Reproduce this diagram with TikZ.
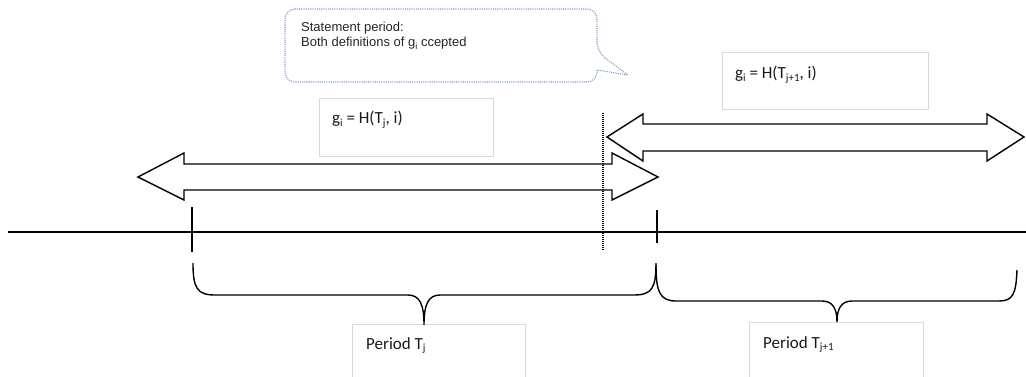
\documentclass[tikz,border=0pt]{standalone}
\usepackage{fontspec}
\setmainfont{Carlito}
\newfontfamily\calloutfont{Liberation Sans}
% small lowered index used in the labels
\newcommand\lowidx[1]{\raisebox{-0.35ex}{\fontsize{11}{11}\selectfont #1}}
\newcommand\lowidxs[1]{\raisebox{-0.35ex}{\fontsize{9}{9}\selectfont #1}}
\begin{document}
\begin{tikzpicture}[x=1pt,y=-1pt,
  axis/.style={line width=1.2pt, black},
  blockarrow/.style={line width=1.4pt, black, line join=miter},
  brace/.style={line width=1.4pt, black},
  marker/.style={line width=1.2pt, black, dash pattern=on 1pt off 1pt},
  panel/.style={draw=black!15, line width=0.9pt, inner sep=0pt},
  lbl/.style={anchor=base west, inner sep=0pt, text=black!90, font=\fontsize{17}{20}\selectfont},
  callout/.style={draw={rgb,255:red,127;green,157;blue,206}, line width=1.1pt, dash pattern=on 1.1pt off 1.1pt},
  note/.style={anchor=base west, inner sep=0pt, font=\calloutfont\fontsize{13}{15}\selectfont, text=black!85}]
\clip (0,0) rectangle (1026,377);

% speech bubble for the overlap period
\draw[callout] (285,40) [rounded corners=10pt] -- (285,9) -- (597,9) -- (597,52) [sharp corners] -- (628,75) -- (597,70) [rounded corners=10pt] -- (597,82) -- (285,82) -- cycle;
\node[note] (note1) at (301,32) {Statement period:};
\node[note] (note2) at (301,47) {Both definitions of g\lowidxs{i} ccepted};

% label panels
\node[panel, minimum width=174pt, minimum height=58pt, anchor=north west] (panelA) at (319,98) {};
\node[lbl] (textA) at (332,124) {g\lowidx{i} = H(T\lowidx{j}, i)};
\node[panel, minimum width=206pt, minimum height=57pt, anchor=north west] (panelB) at (722,52) {};
\node[lbl] (textB) at (735,79) {g\lowidx{i} = H(T\lowidx{j+1}, i)};
\node[panel, minimum width=173pt, minimum height=80pt, anchor=north west] (panelC) at (352,324) {};
\node[lbl] (textC) at (366,349) {Period T\lowidx{j}};
\node[panel, minimum width=174pt, minimum height=80pt, anchor=north west] (panelD) at (749,322) {};
\node[lbl] (textD) at (763,348) {Period T\lowidx{j+1}};

% validity ranges as double block arrows
\draw[blockarrow] (138,177) -- (184,153) -- (184,164) -- (612,164) -- (612,153) -- (658,177)
  -- (612,200) -- (612,190) -- (184,190) -- (184,200) -- cycle;
\draw[blockarrow] (607,137) -- (643,114) -- (643,124) -- (987,124) -- (987,114) -- (1024,137)
  -- (987,161) -- (987,151) -- (643,151) -- (643,161) -- cycle;

% time axis with period boundaries
\coordinate (t0) at (8,232);
\coordinate (t1) at (1026,232);
\draw[axis] (t0) -- (t1);
\coordinate (b1top) at (192,207);
\coordinate (b1bot) at (192,252);
\coordinate (b2top) at (657,210);
\coordinate (b2bot) at (657,243);
\draw[axis] (b1top) -- (b1bot);
\draw[axis] (b2top) -- (b2bot);

% switch-over instant
\coordinate (sTop) at (603,113);
\coordinate (sBot) at (603,250);
\draw[marker] (sTop) -- (sBot);

% braces spanning each period
\draw[brace] (193,263) .. controls (193,288) and (197,295) .. (215,295) -- (408,295)
  .. controls (420,295) and (424,305) .. (424,325)
  .. controls (424,305) and (428,295) .. (440,295) -- (634,295)
  .. controls (652,295) and (656,288) .. (656,263);
\draw[brace] (656,265) .. controls (656,292) and (660,301) .. (676,301) -- (822,301)
  .. controls (833,301) and (837,309) .. (837,322)
  .. controls (837,309) and (841,301) .. (852,301) -- (999,301)
  .. controls (1013,301) and (1016,294) .. (1017,270);
\end{tikzpicture}
\end{document}
